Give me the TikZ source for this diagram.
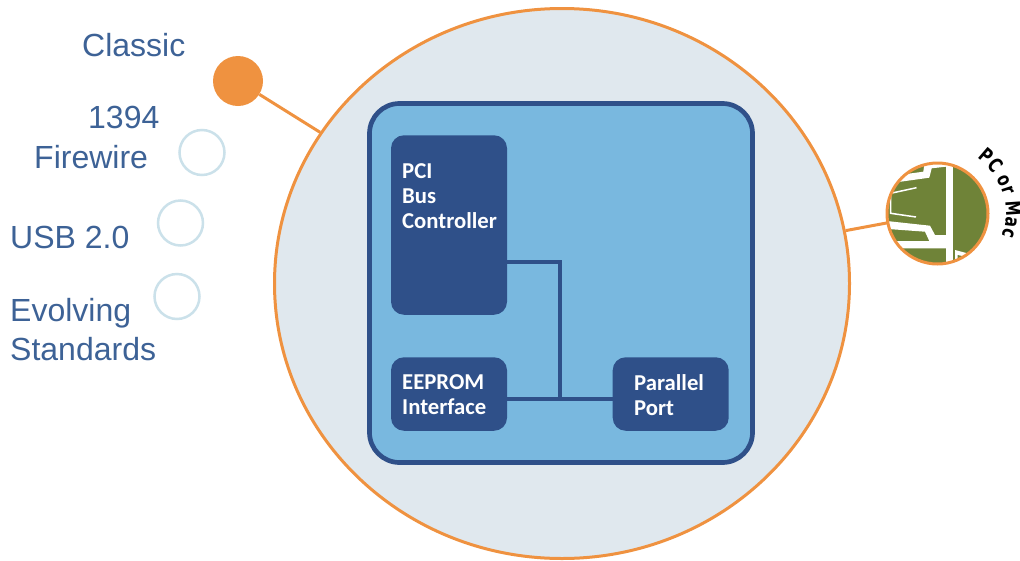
\documentclass[tikz,border=0pt]{standalone}
\usepackage{fontspec}
\setmainfont{Liberation Sans}
\newfontfamily\hwfont{Carlito}
\newfontfamily\macfamily[FakeStretch=0.76]{DejaVu Sans}
\usetikzlibrary{calc, positioning, shapes.geometric, decorations.text}
\definecolor{hubfill}{HTML}{E0E8EE}
\definecolor{wireorange}{HTML}{EF9240}
\definecolor{panelblue}{HTML}{79B8DF}
\definecolor{hwblue}{HTML}{2F5089}
\definecolor{labelblue}{HTML}{3D6296}
\definecolor{ringblue}{HTML}{CBE1EA}
\definecolor{macgreen}{HTML}{6F8338}
\newcommand{\macfont}{\macfamily\fontsize{20}{20}\selectfont\bfseries}
\tikzset{
    busword/.style={anchor=base west, inner sep=0pt, text=labelblue, font=\fontsize{32}{34}\selectfont},
    hwbox/.style={rectangle, rounded corners=13pt, fill=hwblue, draw=none, minimum width=116pt, inner sep=0pt},
    hwtext/.style={anchor=north west, inner sep=0pt, align=left, text=white, font=\hwfont\bfseries\fontsize{22.7}{25}\selectfont},
    emptydot/.style={circle, draw=ringblue, line width=2.5pt, fill=white, minimum size=45pt, inner sep=0pt},
    wire/.style={draw=wireorange, line width=3pt},
    hwwire/.style={draw=hwblue, line width=4.8pt},
    macline/.style={draw=white, line width=#1}
}
\begin{document}
\begin{tikzpicture}[x=1pt, y=-1pt]
    \useasboundingbox (0,0) rectangle (1020,560);

    \node[ellipse, fill=hubfill, draw=wireorange, line width=3pt, minimum width=575pt, minimum height=550pt, inner sep=0pt] (hub) at (562,283.5) {};
    \node[rectangle, rounded corners=30pt, fill=panelblue, draw=hwblue, line width=4.7pt, minimum width=383pt, minimum height=359pt, inner sep=0pt] (panel) at (561,283) {};

    \node[hwbox, minimum height=179.5pt] (pci) at (449,225) {};
    \node[hwbox, minimum height=73.5pt] (eeprom) at (449,394) {};
    \node[hwbox, minimum height=73.5pt] (parallel) at (670.7,394) {};
    \node[hwtext] (pcitext) at (402,163) {PCI\\Bus\\Controller};
    \node[hwtext] (eepromtext) at (402,374) {EEPROM\\Interface};
    \node[hwtext] (paralleltext) at (634,374) {Parallel\\Port};

    \coordinate (bustop) at (560,262);
    \coordinate (busbottom) at (560,399);
    \draw[hwwire] (pci.east |- bustop) -- (bustop) -- (busbottom);
    \draw[hwwire] (eeprom.east |- busbottom) -- (parallel.west |- busbottom);

    % the four bus choices
    \node[circle, fill=wireorange, minimum size=50pt, inner sep=0pt] (classicdot) at (238,81) {};
    \node[emptydot] (firewiredot) at (202,152.5) {};
    \node[emptydot] (usbdot) at (180.5,223) {};
    \node[emptydot] (evolvingdot) at (177,296.5) {};
    \draw[wire] (classicdot) -- (hub);

    \node[busword] (classic) at (82,56) {Classic};
    \node[busword] (nr1394) at (88,128) {1394};
    \node[busword] (firewire) at (34,168) {Firewire};
    \node[busword] (usb) at (10,248) {USB 2.0};
    \node[busword] (evolving) at (10,321.5) {Evolving};
    \node[busword] (standards) at (10,360) {Standards};

    % PC or Mac picture
    \node[circle, fill=macgreen, minimum size=100pt, inner sep=0pt] (macdot) at (937.5,213.5) {};
    \draw[wire] (hub) -- (macdot);
    \begin{scope}
        \clip (macdot.center) circle[radius=50pt];
        \draw[macline=7pt] (949.8,155) -- (949.8,270);
        \fill[white] (884,177) -- (923.3,171.7) -- (925,160) -- (946,160) -- (946,166.7) -- (931.7,168.3) -- (929.3,177.7) -- (884,184) -- cycle;
        \draw[macline=1.5pt] (916.5,187.7) -- (890.7,193.3) -- (890.7,213.3) -- (916,217);
        \fill[white] (884,220.7) -- (930,225.7) -- (935,235) -- (946,235) -- (946,248.3) -- (884,248.3) -- (884,241) -- (929.3,241) -- (925,231.7) -- (884,228.7) -- cycle;
        \fill[white] (955,250) -- (972,254.5) -- (960,270) -- (955,270) -- cycle;
        \fill[macgreen] (957.5,255) -- (965,256.7) -- (957.5,260.5) -- cycle;
    \end{scope}
    \node[circle, draw=wireorange, line width=3pt, minimum size=101pt, inner sep=0pt] (macring) at (macdot) {};
    \path[decorate, decoration={text along path, text align=fit to path, text={|\macfont|PC or Mac}}]
        ($(macdot)+(54:68.5pt)$) arc[start angle=54, end angle=-19, radius=68.5pt];
\end{tikzpicture}
\end{document}
